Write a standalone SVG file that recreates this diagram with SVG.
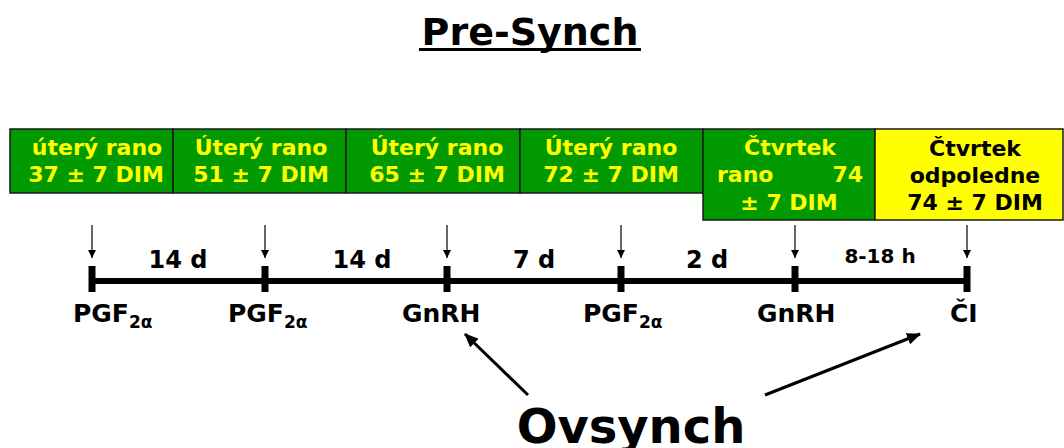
<svg xmlns="http://www.w3.org/2000/svg" width="1064" height="448" viewBox="0 0 1064 448">
<defs>
<style>
text{font-family:"DejaVu Sans","Verdana",sans-serif;font-weight:bold;}
.box{fill:#009900;stroke:#1a1a1a;stroke-width:1.5;}
.ybox{fill:#FFFF00;stroke:#1a1a1a;stroke-width:1.5;}
.bt{font-size:22px;fill:#FFFF00;text-anchor:middle;}
.bk{font-size:22px;fill:#000;text-anchor:middle;}
.dur{font-size:24px;fill:#000;text-anchor:middle;}
.lab{font-size:25px;fill:#000;}
.sub{font-size:17px;}
.tick{fill:#000;}
.sa{stroke:#000;stroke-width:1.2;fill:none;marker-end:url(#sm);}
.ba{stroke:#000;stroke-width:3;fill:none;marker-end:url(#bm);}
</style>
<marker id="sm" markerWidth="8" markerHeight="8" refX="8" refY="4" orient="auto" markerUnits="userSpaceOnUse" viewBox="0 0 8 8">
<path d="M0,0 L8,4 L0,8 Z" fill="#000"/>
</marker>
<marker id="bm" markerWidth="14" markerHeight="12" refX="13" refY="6" orient="auto" markerUnits="userSpaceOnUse" viewBox="0 0 14 12">
<path d="M0,0 L14,6 L0,12 Z" fill="#000"/>
</marker>
</defs>
<g id="title">
<text x="530" y="45" style="font-size:38px;text-anchor:middle;">Pre-Synch</text>
<rect x="419" y="48" width="222" height="3" fill="#000"/>
</g>
<g id="box1">
<rect class="box" x="10" y="129" width="163" height="64"/>
<text class="bt" x="97" y="155">úterý rano</text>
<text class="bt" x="96" y="182">37 ± 7 DIM</text>
</g>
<g id="box2">
<rect class="box" x="173" y="129" width="173" height="64"/>
<text class="bt" x="261" y="155">Úterý rano</text>
<text class="bt" x="261" y="182">51 ± 7 DIM</text>
</g>
<g id="box3">
<rect class="box" x="346" y="129" width="174" height="64"/>
<text class="bt" x="437" y="155">Úterý rano</text>
<text class="bt" x="437" y="182">65 ± 7 DIM</text>
</g>
<g id="box4">
<rect class="box" x="520" y="129" width="183" height="64"/>
<text class="bt" x="611" y="155">Úterý rano</text>
<text class="bt" x="611" y="182">72 ± 7 DIM</text>
</g>
<g id="box5">
<rect class="box" x="703" y="129" width="172" height="91"/>
<text class="bt" x="790" y="155">Čtvrtek</text>
<text class="bt" x="717" y="182" style="text-anchor:start">rano</text>
<text class="bt" x="863" y="182" style="text-anchor:end">74</text>
<text class="bt" x="789" y="210">± 7 DIM</text>
</g>
<g id="box6">
<rect class="ybox" x="875" y="129" width="188" height="91"/>
<text class="bk" x="975" y="156">Čtvrtek</text>
<text class="bk" x="975" y="183">odpoledne</text>
<text class="bk" x="975" y="210">74 ± 7 DIM</text>
</g>
<g id="timeline">
<rect class="tick" x="92" y="278" width="875" height="6"/>
<rect class="tick" x="88.5" y="266" width="7" height="26"/>
<rect class="tick" x="261.5" y="266" width="7" height="26"/>
<rect class="tick" x="443.5" y="266" width="7" height="26"/>
<rect class="tick" x="617.5" y="266" width="7" height="26"/>
<rect class="tick" x="791.5" y="266" width="7" height="26"/>
<rect class="tick" x="963.5" y="266" width="7" height="26"/>
<text class="dur" x="178" y="268">14 d</text>
<text class="dur" x="362" y="268">14 d</text>
<text class="dur" x="534" y="268">7 d</text>
<text class="dur" x="707" y="268">2 d</text>
<text class="dur" x="880" y="263" style="font-size:20px">8-18 h</text>
</g>
<g id="labels">
<text class="lab" x="73" y="322">PGF<tspan class="sub" dy="6">2α</tspan></text>
<text class="lab" x="228" y="322">PGF<tspan class="sub" dy="6">2α</tspan></text>
<text class="lab" x="402" y="322">GnRH</text>
<text class="lab" x="583" y="322">PGF<tspan class="sub" dy="6">2α</tspan></text>
<text class="lab" x="757" y="322">GnRH</text>
<text class="lab" x="950" y="322">ČI</text>
</g>
<g id="ovsynch">
<text x="631" y="443" style="font-size:48px;text-anchor:middle;">Ovsynch</text>
</g>
<g id="connectors">
<line class="sa" x1="92" y1="225" x2="92" y2="258"/>
<line class="sa" x1="265" y1="225" x2="265" y2="258"/>
<line class="sa" x1="447" y1="225" x2="447" y2="258"/>
<line class="sa" x1="621" y1="225" x2="621" y2="258"/>
<line class="sa" x1="795" y1="225" x2="795" y2="258"/>
<line class="sa" x1="967" y1="225" x2="967" y2="258"/>
<line class="ba" x1="528" y1="395" x2="465" y2="334"/>
<line class="ba" x1="765" y1="395" x2="920" y2="334"/>
</g>
</svg>
